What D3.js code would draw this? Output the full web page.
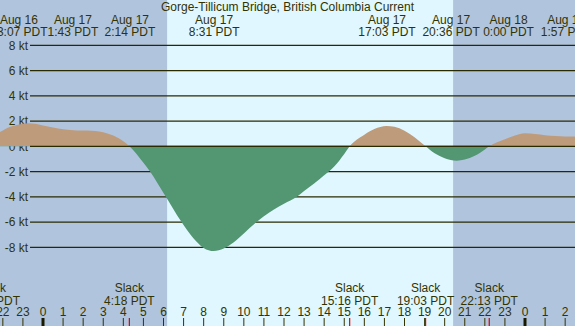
<!DOCTYPE html>
<html>
<head>
<meta charset="utf-8">
<script src="https://cdn.jsdelivr.net/npm/d3@7"></script>
<style>
  body { margin: 0; background: #b0c4de; }
  svg { display: block; font-family: "Liberation Sans", Arial, sans-serif; }
</style>
</head>
<body>
<div id="chart"></div>
<script>
  // Size
  var width = 575
  var height = 326

  // Current speed (kt) by hour of Aug 17 (negative = Aug 16, >24 = Aug 18)
  var hours = [-2.57, -2.3, -2, -1.5, -1, -0.75, -0.4, 0, 0.5, 1, 1.7, 2.2, 3, 3.5, 4, 4.3,
    5, 5.33, 6, 6.9, 7.5, 8, 8.5, 9, 9.5, 10, 10.64, 11, 11.5, 12, 12.64, 13, 13.5, 14, 14.5, 15, 15.27,
    16, 16.5, 17.1, 17.5, 18, 18.5, 19.05, 19.5, 20, 20.6, 21, 21.5, 22, 22.22,
    23, 23.5, 24, 24.5, 25, 25.5, 26, 26.6]
  var speeds = [0, 0.9, 1.25, 1.6, 1.78, 1.82, 1.78, 1.65, 1.48, 1.35, 1.26, 1.25, 1.12, 0.85, 0.4, 0,
    -1.3, -2, -3.7, -6, -7.3, -8.05, -8.3, -8.1, -7.6, -6.9, -6, -5.55, -5.0, -4.55, -4, -3.55, -2.95, -2.3, -1.6, -0.6, 0,
    0.92, 1.37, 1.61, 1.55, 1.24, 0.71, 0, -0.55, -0.95, -1.14, -1.05, -0.75, -0.25, 0,
    0.55, 0.85, 1.03, 0.97, 0.88, 0.82, 0.78, 0.77]

  // Max / min events (top labels), placed at labelHours
  var eventDates = ["Aug 16", "Aug 17", "Aug 17", "Aug 17", "Aug 17", "Aug 17", "Aug 18", "Aug 18"]
  var eventTimes = ["23:07 PDT", "1:43 PDT", "2:14 PDT", "8:31 PDT", "17:03 PDT", "20:36 PDT", "0:00 PDT", "1:57 PDT"]
  var labelHours = [-1.2, 1.49, 4.33, 8.52, 17.13, 20.32, 23.18, 26.05]

  // Slack water
  var slackHours = [-2.57, 4.3, 15.27, 19.05, 22.22]
  var slackTimes = ["21:26 PDT", "4:18 PDT", "15:16 PDT", "19:03 PDT", "22:13 PDT"]

  // Daylight
  var sunrise = 6.18
  var sunset = 20.42

  var yTicks = [8, 6, 4, 2, 0, -2, -4, -6, -8]
  var hourTicks = d3.range(-2, 27)

  var ink = "#333300"

  var x = d3.scaleLinear().domain([0, 24]).range([43, 525])
  var y = d3.scaleLinear().domain([-8, 8]).range([247.3, 45.3])

  var svg = d3.select("#chart")
    .append("svg")
    .attr("width", width)
    .attr("height", height)

  // night / day background
  svg.append("rect")
    .attr("width", width).attr("height", height)
    .attr("fill", "#b0c4de")
  svg.append("rect")
    .attr("x", x(sunrise)).attr("y", 0)
    .attr("width", x(sunset) - x(sunrise)).attr("height", height)
    .attr("fill", "#e0f7ff")

  // grid lines
  svg.append("g")
    .selectAll("line")
    .data(yTicks)
    .enter()
    .append("line")
    .attr("x1", 30).attr("x2", width)
    .attr("y1", function (d) { return y(d) })
    .attr("y2", function (d) { return y(d) })
    .attr("stroke", "#2a2a00")
    .attr("stroke-width", 1.3)

  svg.append("g")
    .selectAll("text")
    .data(yTicks)
    .enter()
    .append("text")
    .attr("x", 28)
    .attr("y", function (d) { return y(d) })
    .attr("dy", "0.35em")
    .attr("text-anchor", "end")
    .attr("font-size", 12)
    .attr("fill", ink)
    .text(function (d) { return d + " kt" })

  // clip paths for flood / ebb
  var defs = svg.append("defs")
  defs.append("clipPath").attr("id", "above")
    .append("rect").attr("x", 0).attr("y", 0).attr("width", width).attr("height", y(0))
  defs.append("clipPath").attr("id", "below")
    .append("rect").attr("x", 0).attr("y", y(0)).attr("width", width).attr("height", height - y(0))

  var pts = hours.map(function (h, i) { return [h, speeds[i]] })
  var area = d3.area()
    .x(function (d) { return x(d[0]) })
    .y0(y(0))
    .y1(function (d) { return y(d[1]) })
    .curve(d3.curveMonotoneX)

  svg.append("path")
    .attr("d", area(pts))
    .attr("fill", "#be9b7b")
    .attr("clip-path", "url(#above)")
  svg.append("path")
    .attr("d", area(pts))
    .attr("fill", "#529672")
    .attr("clip-path", "url(#below)")

  // zero line on top
  svg.append("line")
    .attr("x1", 30).attr("x2", width)
    .attr("y1", y(0)).attr("y2", y(0))
    .attr("stroke", "#2a2a00")
    .attr("stroke-width", 1.3)

  // title
  svg.append("text")
    .attr("x", width / 2).attr("y", 11)
    .attr("text-anchor", "middle")
    .attr("font-size", 12)
    .attr("fill", ink)
    .text("Gorge-Tillicum Bridge, British Columbia Current")

  // event labels
  var ev = svg.append("g")
    .selectAll("g")
    .data(eventTimes)
    .enter()
    .append("g")
    .attr("transform", function (d, i) { return "translate(" + x(labelHours[i]) + ",0)" })
  ev.append("text")
    .attr("y", 24)
    .attr("text-anchor", "middle")
    .attr("font-size", 12)
    .attr("fill", ink)
    .text(function (d, i) { return eventDates[i] })
  ev.append("text")
    .attr("y", 36)
    .attr("text-anchor", "middle")
    .attr("font-size", 12)
    .attr("fill", ink)
    .text(function (d) { return d })

  // slack labels
  var sl = svg.append("g")
    .selectAll("g")
    .data(slackTimes)
    .enter()
    .append("g")
    .attr("transform", function (d, i) { return "translate(" + x(slackHours[i]) + ",0)" })
  sl.append("text")
    .attr("y", 292)
    .attr("text-anchor", "middle")
    .attr("font-size", 12)
    .attr("fill", ink)
    .text("Slack")
  sl.append("text")
    .attr("y", 304.5)
    .attr("text-anchor", "middle")
    .attr("font-size", 12)
    .attr("fill", ink)
    .text(function (d) { return d })

  // hour axis
  var ax = svg.append("g")
  ax.selectAll("text")
    .data(hourTicks)
    .enter()
    .append("text")
    .attr("x", function (d) { return x(d) })
    .attr("y", 316)
    .attr("text-anchor", "middle")
    .attr("font-size", 12)
    .attr("fill", ink)
    .text(function (d) { return ((d % 24) + 24) % 24 })
  ax.selectAll("line.hr")
    .data(hourTicks.filter(function (d) { return d % 24 !== 0 }))
    .enter()
    .append("line")
    .attr("class", "hr")
    .attr("x1", function (d) { return x(d) })
    .attr("x2", function (d) { return x(d) })
    .attr("y1", 318).attr("y2", height)
    .attr("stroke", ink)
    .attr("stroke-width", 1)
  ax.selectAll("rect.mid")
    .data(hourTicks.filter(function (d) { return d % 24 === 0 }))
    .enter()
    .append("rect")
    .attr("class", "mid")
    .attr("x", function (d) { return x(d) - 1.5 })
    .attr("y", 318)
    .attr("width", 3).attr("height", height - 318)
    .attr("fill", "#1a1a00")
  ax.selectAll("line.slack")
    .data(slackHours)
    .enter()
    .append("line")
    .attr("class", "slack")
    .attr("x1", function (d) { return x(d) })
    .attr("x2", function (d) { return x(d) })
    .attr("y1", 318).attr("y2", height)
    .attr("stroke", "#e00000")
    .attr("stroke-width", 1.2)
</script>
</body>
</html>
